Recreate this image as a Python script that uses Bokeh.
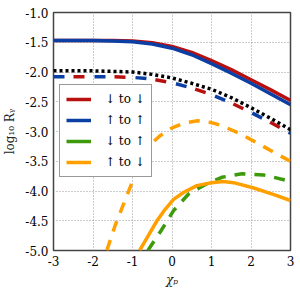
from bokeh.plotting import figure
from bokeh.models import ColumnDataSource, Legend, LegendItem, FixedTicker, Range1d
from bokeh.embed import file_html
from bokeh.resources import INLINE

# ---- data ----
x_main = [-3, -2, -1.5, -1, -0.5, 0, 0.5, 1, 1.5, 2, 2.5, 3]
red_solid = [-1.47, -1.47, -1.47, -1.48, -1.51, -1.57, -1.67, -1.81, -1.96, -2.13, -2.30, -2.48]
blue_solid = [-1.47, -1.47, -1.48, -1.49, -1.53, -1.60, -1.71, -1.86, -2.02, -2.19, -2.37, -2.55]
black_dotted = [-1.98, -1.98, -1.99, -2.00, -2.04, -2.10, -2.19, -2.29, -2.43, -2.60, -2.78, -2.97]
red_dashed = [-2.08, -2.08, -2.08, -2.09, -2.12, -2.18, -2.27, -2.38, -2.52, -2.68, -2.85, -3.03]
blue_dashed = [-2.08, -2.08, -2.08, -2.09, -2.12, -2.18, -2.27, -2.38, -2.52, -2.68, -2.85, -3.03]

x_orange_dashed = [-1.65, -1.44, -1.25, -1.06, -0.87, -0.68, -0.5, -0.3, 0, 0.3, 0.65, 1, 1.25, 1.7, 2.15, 2.6, 3]
orange_dashed = [-5.0, -4.58, -4.26, -3.94, -3.62, -3.35, -3.19, -3.07, -2.94, -2.86, -2.82, -2.85, -2.90, -3.03, -3.19, -3.36, -3.50]

x_orange_solid = [-0.82, -0.6, -0.38, -0.2, 0.04, 0.3, 0.63, 1.0, 1.3, 1.56, 2.07, 2.58, 3]
orange_solid = [-5.0, -4.75, -4.50, -4.33, -4.14, -4.02, -3.91, -3.86, -3.84, -3.86, -3.95, -4.06, -4.16]

x_green_dashed = [-0.61, -0.27, 0.04, 0.42, 0.71, 0.97, 1.26, 1.77, 2.32, 2.83, 3]
green_dashed = [-5.0, -4.66, -4.33, -4.05, -3.94, -3.85, -3.77, -3.71, -3.73, -3.81, -3.84]

legend_labels = ["↓ to ↓", "↑ to ↑", "↓ to ↑", "↑ to ↓"]
x_ticks = [-3, -2, -1, 0, 1, 2, 3]
x_tick_labels = ["-3", "-2", "-1", "0", "1", "2", "3"]
y_ticks = [-1.0, -1.5, -2.0, -2.5, -3.0, -3.5, -4.0, -4.5, -5.0]
y_tick_labels = ["-1.0", "-1.5", "-2.0", "-2.5", "-3.0", "-3.5", "-4.0", "-4.5", "-5.0"]

RED = "#b80f0f"
BLUE = "#0b3fa3"
GREEN = "#3c9a0c"
ORANGE = "#ffa000"
FONT = "DejaVu Serif"

p = figure(width=300, height=290, output_backend="svg", toolbar_location=None,
           x_range=Range1d(-3, 3), y_range=Range1d(-5, -1),
           min_border_left=53, min_border_right=10, min_border_top=12, min_border_bottom=40)
p.background_fill_color = "white"
p.border_fill_color = "white"
p.outline_line_color = "#444444"
p.outline_line_width = 1.5

main = ColumnDataSource(dict(x=x_main, rs=red_solid, bs=blue_solid, kd=black_dotted,
                             rd=red_dashed, bd=blue_dashed))
src_od = ColumnDataSource(dict(x=x_orange_dashed, y=orange_dashed))
src_os = ColumnDataSource(dict(x=x_orange_solid, y=orange_solid))
src_gd = ColumnDataSource(dict(x=x_green_dashed, y=green_dashed))

LW = 3.5
p.line("x", "rd", source=main, line_color=RED, line_width=LW, line_dash="11 30", line_dash_offset=21)
p.line("x", "bd", source=main, line_color=BLUE, line_width=LW, line_dash="11 30")
p.line("x", "kd", source=main, line_color="black", line_width=LW, line_dash="3 3")
r_red = p.line("x", "rs", source=main, line_color=RED, line_width=LW)
r_blue = p.line("x", "bs", source=main, line_color=BLUE, line_width=LW)
p.line("x", "y", source=src_od, line_color=ORANGE, line_width=LW, line_dash="11 9")
p.line("x", "y", source=src_gd, line_color=GREEN, line_width=LW, line_dash="11 9")
r_orange = p.line("x", "y", source=src_os, line_color=ORANGE, line_width=LW)
# legend-only solid green entry (hidden in the plot)
r_green_leg = p.line("x", "y", source=src_gd, line_color=GREEN, line_width=LW, visible=False)

legend = Legend(items=[
    LegendItem(label=legend_labels[0], renderers=[r_red]),
    LegendItem(label=legend_labels[1], renderers=[r_blue]),
    LegendItem(label=legend_labels[2], renderers=[r_green_leg]),
    LegendItem(label=legend_labels[3], renderers=[r_orange]),
], location=(6, 73))
legend.label_text_font = FONT
legend.label_text_font_size = "12px"
legend.label_text_color = "black"
legend.glyph_width = 25
legend.glyph_height = 16
legend.label_height = 16
legend.label_standoff = 14
legend.spacing = 5
legend.padding = 6
legend.margin = 0
legend.border_line_color = "#333333"
legend.border_line_width = 1.2
legend.background_fill_alpha = 1.0
p.add_layout(legend, "center")

for ax, ticks, labels in ((p.xaxis[0], x_ticks, x_tick_labels), (p.yaxis[0], y_ticks, y_tick_labels)):
    ax.ticker = FixedTicker(ticks=ticks)
    ax.major_label_overrides = {t: l for t, l in zip(ticks, labels)}
    ax.major_tick_out = 0
    ax.major_tick_in = 0
    ax.minor_tick_out = 0
    ax.minor_tick_in = 0
    ax.axis_line_color = None
    ax.major_label_text_font = FONT
    ax.major_label_text_font_size = "12px"
    ax.major_label_text_color = "black"
    ax.major_label_standoff = 5
    ax.axis_label_text_font = FONT
    ax.axis_label_text_font_size = "12px"
    ax.axis_label_text_color = "#222222"

p.xaxis.axis_label = "χₚ"
p.xaxis.axis_label_text_font_style = "italic"
p.xaxis.axis_label_standoff = 4
p.yaxis.axis_label = "log₁₀ Rᵧ"
p.yaxis.axis_label_text_font_style = "normal"
p.yaxis.axis_label_standoff = 5

p.xgrid.ticker = FixedTicker(ticks=x_ticks)
p.ygrid.ticker = FixedTicker(ticks=y_ticks)
for g in (p.xgrid[0], p.ygrid[0]):
    g.grid_line_color = "#999999"
    g.grid_line_dash = "1 2"
    g.grid_line_width = 1

open("out.html", "w").write(file_html(p, INLINE))
